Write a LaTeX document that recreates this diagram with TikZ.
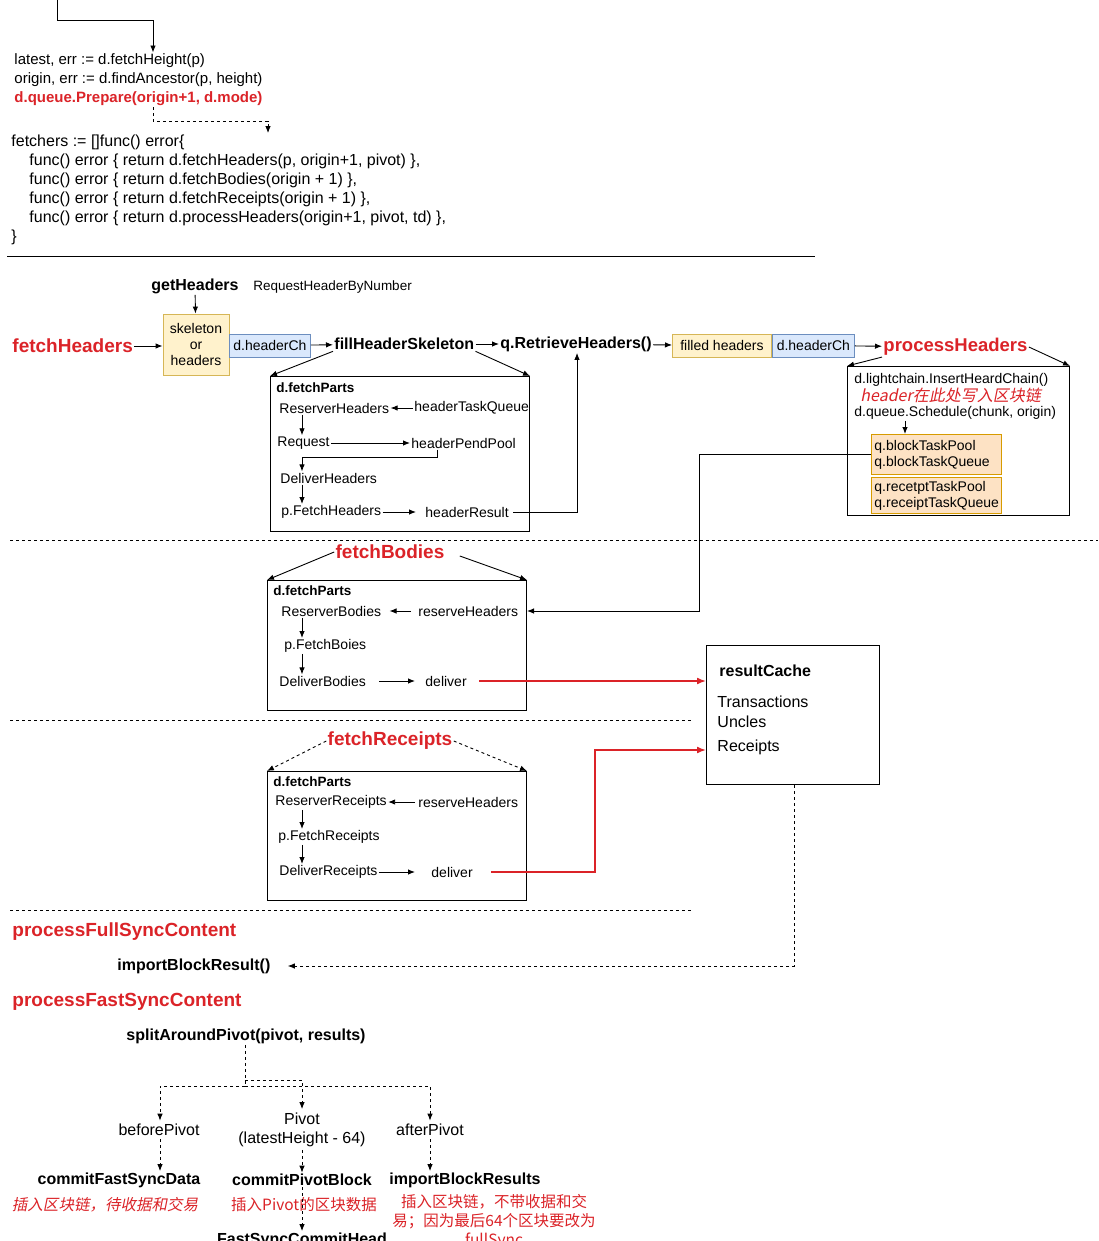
\documentclass[tikz,border=0pt]{standalone}
\usepackage{fontspec}
\setmainfont{Liberation Sans}
\newfontfamily\cjk{Noto Sans CJK SC}
\newfontfamily\cjkit{Noto Sans CJK SC}[FakeSlant=0.2]
\usetikzlibrary{positioning,
        arrows.meta,
        calc}
\definecolor{dred}{RGB}{219,35,40}
\definecolor{yfill}{RGB}{255,242,204}
\definecolor{ydraw}{RGB}{214,182,86}
\definecolor{bfill}{RGB}{218,232,252}
\definecolor{bdraw}{RGB}{108,142,191}
\definecolor{ofill}{RGB}{253,226,196}
\definecolor{odraw}{RGB}{215,155,0}

\tikzset{
    arr/.style={-{Latex[length=7pt,width=5.5pt]}},
    redarr/.style={-{Latex[length=9pt,width=7pt]},dred,line width=1.6pt},
    dsh/.style={dash pattern=on 3pt off 3pt},
    code/.style={anchor=west,align=left,inner sep=1pt,font=\fontsize{15}{19}\selectfont},
    txt/.style={anchor=west,inner sep=1pt,font=\fontsize{14}{17}\selectfont},
    bigtxt/.style={inner sep=3pt,font=\fontsize{16}{19}\selectfont},
    bold/.style={inner sep=1pt,font=\bfseries\fontsize{16}{19}\selectfont},
    partlbl/.style={anchor=west,inner sep=1pt,font=\bfseries\fontsize{13.5}{16}\selectfont},
    redtitle/.style={inner sep=1pt,text=dred,font=\bfseries\fontsize{19}{22}\selectfont},
    redsub/.style={anchor=west,inner sep=1pt,text=dred,font=\bfseries\fontsize{19}{22}\selectfont},
    partbox/.style={draw,line width=1pt,anchor=north west,inner sep=0pt},
    ybox/.style={draw=ydraw,fill=yfill,inner sep=2pt,font=\fontsize{14}{16}\selectfont},
    bbox/.style={draw=bdraw,fill=bfill,inner sep=2pt,font=\fontsize{14}{16}\selectfont},
    obox/.style={draw=odraw,fill=ofill,anchor=north west,inner sep=3pt,text width=124pt,align=left,font=\fontsize{14}{16}\selectfont},
    cjknote/.style={inner sep=1pt,text=dred,font=\cjk\fontsize{15.5}{19}\selectfont},
}

\begin{document}
\begin{tikzpicture}[x=1pt,y=-1pt,line width=0.9pt]
    \useasboundingbox (0,0) rectangle (1098,1241);
    \fill [white] (0,0) rectangle (1098,1241);

    % start code
    \coordinate (in) at (57,0);
    \node [code] (fetch) at (13,80) {latest, err := d.fetchHeight(p)\\origin, err := d.findAncestor(p, height)\\\textcolor{dred}{\bfseries d.queue.Prepare(origin+1, d.mode)}};
    \node [code,font=\fontsize{16}{19}\selectfont] (fetchers) at (10,189.5) {fetchers := []func() error\{\\
        \hspace*{18pt}func() error \{ return d.fetchHeaders(p, origin+1, pivot) \},\\
        \hspace*{18pt}func() error \{ return d.fetchBodies(origin + 1) \},\\
        \hspace*{18pt}func() error \{ return d.fetchReceipts(origin + 1) \},\\
        \hspace*{18pt}func() error \{ return d.processHeaders(origin+1, pivot, td) \},\\
        \}};
    \draw [arr] (in) |- (153,20) -- (fetch.north -| 153,0);
    \draw [arr,dsh] (fetch.south -| 153,0) |- (268,121) -- (fetchers.north -| 268,0);
    \draw (7,256) -- (815,256);

    % fetchHeaders
    \node [bold] (getH) at (195,286) {getHeaders};
    \node [txt,font=\fontsize{13.5}{16}\selectfont] (reqnum) at (252,287) {RequestHeaderByNumber};
    \node [ybox,minimum width=66pt,minimum height=61pt,align=center] (skel) at (196,344.5) {skeleton\\or\\headers};
    \node [bbox,anchor=west,minimum width=81pt,minimum height=23pt] (hch1) at (229,345.5) {d.headerCh};
    \node [redtitle,anchor=west] (fetchH) at (11,346) {fetchHeaders};
    \node [bold,anchor=west] (fill) at (333,344) {fillHeaderSkeleton};
    \node [bold,anchor=west] (retr) at (499,344) {q.RetrieveHeaders()};
    \node [ybox,anchor=west,minimum width=99pt,minimum height=23pt] (filled) at (672,345.5) {filled headers};
    \node [bbox,anchor=west,minimum width=82pt,minimum height=23pt] (hch2) at (filled.east) {d.headerCh};
    \node [redtitle,anchor=west,font=\bfseries\fontsize{18.5}{22}\selectfont] (procH) at (882,347) {processHeaders};

    \draw [arr] (getH) -- (skel);
    \draw [arr] (fetchH.east) -- (skel.west |- fetchH.east);
    \draw [arr] (hch1) -- (fill);
    \draw [arr] (fill) -- (retr);
    \draw [arr] (retr) -- (filled);
    \draw [arr] (hch2) -- (procH);

    \node [partbox,minimum width=259pt,minimum height=155pt] (hparts) at (270,376) {};
    \node [partlbl] at (275,388) {d.fetchParts};
    \node [txt] (resH) at (278,408) {ReserverHeaders};
    \node [txt] (htq) at (413,408) {headerTaskQueue};
    \node [txt] (req) at (276,443) {Request};
    \node [txt] (hpp) at (410,443) {headerPendPool};
    \node [txt] (delH) at (279,478) {DeliverHeaders};
    \node [txt] (pfh) at (280,512) {p.FetchHeaders};
    \node [txt] (hres) at (424,512) {headerResult};

    \draw [arr] (fill.south west) -- (hparts.north west);
    \draw [arr] (fill.south east) -- (hparts.north east);
    \draw [arr] (htq) -- (resH);
    \draw [arr] (resH.south -| 302,0) -- (req.north -| 302,0);
    \draw [arr] (req) -- (hpp);
    \draw [arr] (hpp.south -| 437,0) |- (302,457) -- (delH.north -| 302,0);
    \draw [arr] (delH.south -| 302,0) -- (pfh.north -| 302,0);
    \draw [arr] (pfh.east) -- ([xshift=-8pt]hres.west);
    \draw [arr] ([xshift=3pt]hres.east) -| (retr.south -| 577,0);

    % processHeaders
    \node [partbox,minimum width=222pt,minimum height=149pt] (pbox) at (847,366) {};
    \node [txt] (ins) at (853,380) {d.lightchain.InsertHeardChain()};
    \node [cjknote,anchor=west,font=\cjkit\fontsize{16}{19}\selectfont] (note) at (859,395) {header在此处写入区块链};
    \node [txt] (sched) at (853,413) {d.queue.Schedule(chunk, origin)};
    \node [obox,minimum height=40pt] (btask) at (871,434) {q.blockTaskPool\\q.blockTaskQueue};
    \node [obox,minimum height=36pt] (rtask) at (871,477) {q.recetptTaskPool\\q.receiptTaskQueue};

    \draw [arr] (procH.south west) -- (pbox.north west);
    \draw [arr] (procH.east) -- (pbox.north east);
    \draw [arr] (sched.south -| 905,0) -- (btask.north -| 905,0);

    \draw [dsh] (10,540) -- (1098,540);

    % fetchBodies
    \node [redtitle] (fB) at (390,552) {fetchBodies};
    \node [partbox,minimum width=259pt,minimum height=130pt] (bparts) at (267,580) {};
    \node [partlbl] at (272,591) {d.fetchParts};
    \node [txt] (resB) at (280,611) {ReserverBodies};
    \node [txt] (rhB) at (417,611) {reserveHeaders};
    \node [txt] (pfb) at (283,646) {p.FetchBoies};
    \node [txt] (delB) at (278,681) {DeliverBodies};
    \node [txt] (dlvB) at (424,681) {deliver};

    \draw [arr] (fB.west) -- (bparts.north west);
    \draw [arr] ([xshift=14pt,yshift=-4pt]fB.east) -- (bparts.north east);
    \draw [arr] ([xshift=-6pt]rhB.west) -- ([xshift=7pt]resB.east);
    \draw [arr] (resB.south -| 302,0) -- (pfb.north -| 302,0);
    \draw [arr] (pfb.south -| 302,0) -- (delB.north -| 302,0);
    \draw [arr] ([xshift=12pt]delB.east) -- ([xshift=-9pt]dlvB.west);
    \coordinate (turn) at (699,611);
    \draw [arr] (btask.west) -| (turn) -- (bparts.east |- turn);

    % resultCache
    \node [partbox,minimum width=173pt,minimum height=139pt] (rc) at (706,645) {};
    \node [bold,anchor=west] (rcl) at (718,671) {resultCache};
    \node [bigtxt,anchor=west,inner sep=1pt] (tx) at (716,702) {Transactions};
    \node [bigtxt,anchor=west,inner sep=1pt] (unc) at (716,722) {Uncles};
    \node [bigtxt,anchor=west,inner sep=1pt] (rcp) at (716,747) {Receipts};
    \draw [redarr] ([xshift=11pt]dlvB.east) -- (rc.west |- dlvB);

    \draw [dsh] (10,720) -- (693,720);

    % fetchReceipts
    \node [redtitle] (fR) at (390,741) {fetchReceipts};
    \node [partbox,minimum width=259pt,minimum height=129pt] (rparts) at (267,771) {};
    \node [partlbl] at (272,782) {d.fetchParts};
    \node [txt] (resR) at (274,802) {ReserverReceipts};
    \node [txt] (rhR) at (417,802) {reserveHeaders};
    \node [txt] (pfr) at (277,837) {p.FetchReceipts};
    \node [txt] (delR) at (278,872) {DeliverReceipts};
    \node [txt] (dlvR) at (430,872) {deliver};

    \draw [arr,dsh] (fR.west) -- (rparts.north west);
    \draw [arr,dsh] (fR.east) -- (rparts.north east);
    \draw [arr] ([xshift=-2pt]rhR.west) -- (resR.east);
    \draw [arr] (resR.south -| 302,0) -- (pfr.north -| 302,0);
    \draw [arr] (pfr.south -| 302,0) -- (delR.north -| 302,0);
    \draw [arr] (delR.east) -- ([xshift=-15pt]dlvR.west);
    \draw [redarr] ([xshift=17pt]dlvR.east) -| (595,750) -- (rc.west |- 0,750);

    \draw [dsh] (10,910) -- (693,910);

    % sync content
    \node [redsub] (pFull) at (11,932) {processFullSyncContent};
    \node [bold,anchor=west] (ibr) at (116,966) {importBlockResult()};
    \draw [arr,dsh] (rc.south -| 794,0) |- ([xshift=16pt]ibr.east);

    \node [redsub] (pFast) at (11,1002) {processFastSyncContent};
    \node [bold,anchor=west] (split) at (125,1036) {splitAroundPivot(pivot, results)};

    \node [bigtxt] (before) at (159,1130) {beforePivot};
    \node [bigtxt,align=center] (pivot) at (302,1129.5) {Pivot\\(latestHeight - 64)};
    \node [bigtxt] (after) at (430,1130) {afterPivot};
    \node [bold] (cfsd) at (119,1180) {commitFastSyncData};
    \node [bold] (cpb) at (302,1180) {commitPivotBlock};
    \node [bold] (ibrs) at (465,1180) {importBlockResults};
    \node [cjknote,font=\cjkit\fontsize{15.5}{19}\selectfont] (n1) at (105,1205) {插入区块链，待收据和交易};
    \node [cjknote] (n2) at (304,1205) {插入Pivot的区块数据};
    \node [cjknote,align=center] (n3) at (494,1222) {插入区块链，不带收据和交\\易；因为最后64个区块要改为\\fullSync};
    \node [bold] (fsch) at (302,1240) {FastSyncCommitHead};

    \draw [dsh] (split.south -| 245,0) -- (245,1086);
    \draw [arr,dsh] (245,1080) -| (pivot.north);
    \draw [arr,dsh] (245,1086) -| (before.north -| 160,0);
    \draw [arr,dsh] (245,1086) -| (after.north);
    \draw [arr,dsh] (before.south -| 160,0) -- (cfsd.north -| 160,0);
    \draw [arr,dsh] (pivot) -- (cpb);
    \draw [arr,dsh] (after) -- (after |- ibrs.north);
    \draw [arr,dsh] (cpb) -- (fsch);
\end{tikzpicture}
\end{document}
